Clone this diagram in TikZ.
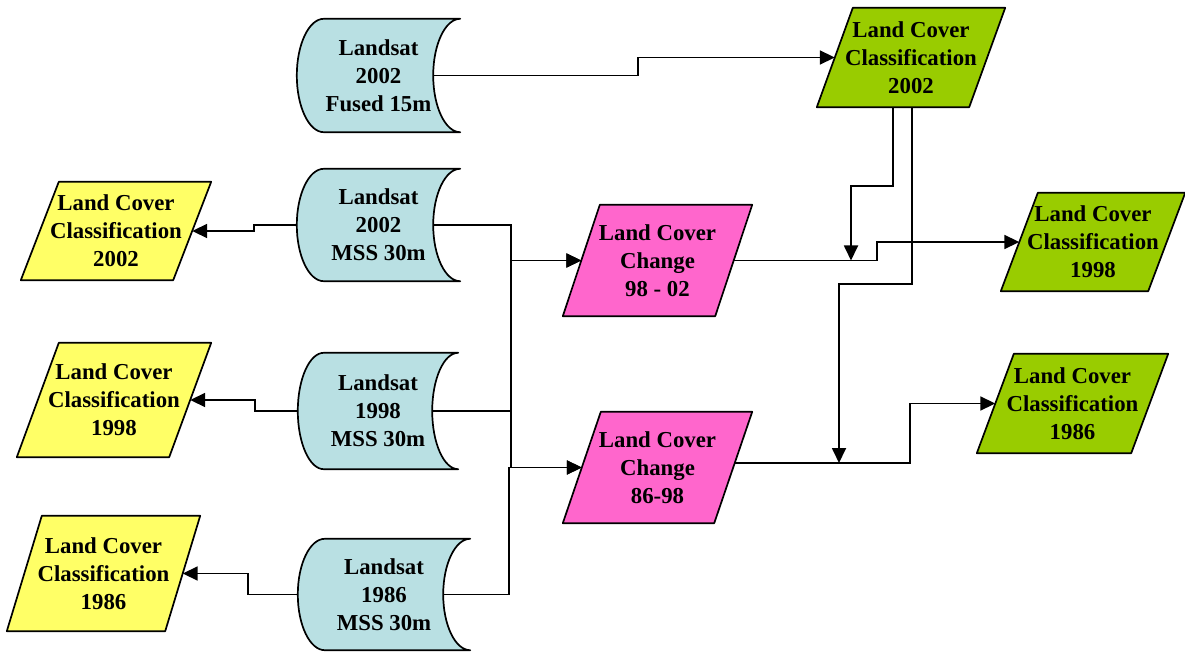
\documentclass[tikz,border=0pt]{standalone}
\usepackage{fontspec}
\setmainfont{Liberation Serif}
\usetikzlibrary{calc,arrows.meta}
\pgfdeclarelayer{background}
\pgfsetlayers{background,main}
\definecolor{lsblue}{RGB}{185,224,227}
\definecolor{lcpink}{RGB}{255,102,204}
\definecolor{lcgreen}{RGB}{153,204,0}
\definecolor{lcyellow}{RGB}{255,255,102}
\tikzset{
  box/.style={shape=rectangle, draw=none, inner sep=0pt, align=center,
    font=\bfseries\fontsize{22.8}{28}\selectfont},
  outline/.style={draw=black, line width=1.7pt, line join=round},
  arr/.style={draw=black, line width=1.8pt, -{Triangle[length=15pt,width=14pt]}},
}
% parallelogram: name, position, width, height, slant, fill, text
\newcommand\paranode[7]{%
  \node[box, minimum width=#3pt, minimum height=#4pt] (#1) at (#2) {#7};
  \coordinate (#1-w) at ($(#1.west)+(#5/2,0)$);
  \coordinate (#1-e) at ($(#1.east)+(-#5/2,0)$);
  \begin{pgfonlayer}{background}
    \path[outline, fill=#6] ($(#1.north west)+(#5,0)$) -- (#1.north east)
      -- ($(#1.south east)+(-#5,0)$) -- (#1.south west) -- cycle;
  \end{pgfonlayer}}
% stored data: name, position, width, height, arc depth, text
\newcommand\storednode[6]{%
  \node[box, minimum width=#3pt, minimum height=#4pt] (#1) at (#2) {#6};
  \coordinate (#1-e) at ($(#1.east)+(-#5,0)$);
  \begin{pgfonlayer}{background}
    \path[outline, fill=lsblue] (#1.north east) -- ($(#1.north west)+(#5,0)$)
      .. controls ($(#1.north west)+(#5*0.448,0)$) and ($(#1.west)+(0,-#4*0.276)$) .. (#1.west)
      .. controls ($(#1.west)+(0,#4*0.276)$) and ($(#1.south west)+(#5*0.448,0)$) .. ($(#1.south west)+(#5,0)$)
      -- (#1.south east)
      .. controls ($(#1.south east)+(-#5*0.552,0)$) and ($(#1.east)+(-#5,#4*0.276)$) .. (#1-e)
      .. controls ($(#1.east)+(-#5,-#4*0.276)$) and ($(#1.north east)+(-#5*0.552,0)$) .. (#1.north east)
      -- cycle;
  \end{pgfonlayer}}
\begin{document}
\begin{tikzpicture}[x=1pt,y=-1pt]
\useasboundingbox (0,0) rectangle (1185,652);
% Landsat inputs
\storednode{lsf}{378.5,75.5}{163}{113}{27}{Landsat\\2002\\Fused 15m}
\storednode{ls02}{378.5,225}{163}{112}{27}{Landsat\\2002\\MSS 30m}
\storednode{ls98}{378,411}{160}{116}{26}{Landsat\\1998\\MSS 30m}
\storednode{ls86}{384,594.5}{172}{111}{27}{Landsat\\1986\\MSS 30m}
% yellow classifications
\paranode{y02}{116,231}{190}{98}{38}{lcyellow}{Land Cover\\Classification\\2002}
\paranode{y98}{114,400}{194}{114}{42}{lcyellow}{Land Cover\\Classification\\1998}
\paranode{y86}{103.5,573.5}{193}{115}{35}{lcyellow}{Land Cover\\Classification\\1986}
% pink change
\paranode{p02}{657.5,260.5}{189}{111}{37}{lcpink}{Land Cover\\Change\\98 - 02}
\paranode{p86}{657.5,467.5}{189}{111}{38}{lcpink}{Land Cover\\Change\\86-98}
% green classifications
\paranode{g02}{911,57.5}{188}{99}{36}{lcgreen}{Land Cover\\Classification\\2002}
\paranode{g98}{1093,242}{184}{98}{37}{lcgreen}{Land Cover\\Classification\\1998}
\paranode{g86}{1072.5,403.5}{191}{99}{37}{lcgreen}{Land Cover\\Classification\\1986}
% junction points on connectors
\coordinate (j1) at (851,260.5);
\coordinate (j2) at (839,463);
% connectors
\draw[arr] (lsf-e) -| (638,66) |- (g02-w);
\draw[arr] (ls02.west) -| (254,229) |- (y02-e);
\draw[arr] (ls98.west) -| (255,405) |- (y98-e);
\draw[arr] (ls86.west) -| (248,585) |- (y86-e);
\draw[arr] (ls02-e) -| (511,240) |- (p02-w);
\draw[arr] (ls98-e) -| (511,300) |- (p02-w);
\draw[arr] (ls98-e) -| (511,440) |- (p86-w);
\draw[arr] (ls86-e) -| (509,530) |- (p86-w);
\draw[arr] (p02-e) -| (877,250) |- (g98-w);
\draw[arr] ($(p86-e)+(1.5,-4.5)$) -| (910,430) |- (g86-w);
\draw[arr] ($(g02.south)+(-18,0)$) -- ++(0,79) -| (j1);
\draw[arr] ($(g02.south)+(1,0)$) -- ++(0,177) -| (j2);
\end{tikzpicture}
\end{document}
